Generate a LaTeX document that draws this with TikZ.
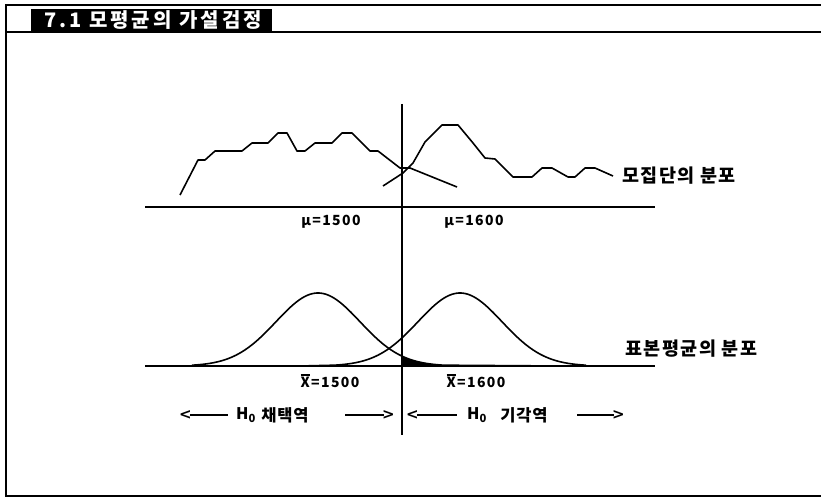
\documentclass[tikz,border=0pt]{standalone}
\usepackage{fontspec}
\setmainfont{Noto Sans CJK KR}[BoldFont={Noto Sans CJK KR Black}]
\newfontfamily\chevfont{DejaVu Sans Bold}
\newcommand{\xbarsym}{{\setbox0\hbox{X}\rlap{\raisebox{1.12\ht0}{\rule{\wd0}{1.2pt}}}X}}
\begin{document}
\begin{tikzpicture}[x=1pt,y=-1pt,
  curve/.style={line width=1.6pt,line join=round},
  axis/.style={line width=1.8pt},
  frame/.style={line width=2.6pt},
  dashline/.style={line width=1.4pt},
  lab/.style={font=\bfseries\fontsize{14}{14}\selectfont\addfontfeature{LetterSpace=10},inner sep=0pt},
  krlab/.style={font=\bfseries\fontsize{18.5}{18}\selectfont\addfontfeature{LetterSpace=8},inner sep=0pt,anchor=west},
  reg/.style={font=\bfseries\fontsize{16.5}{16}\selectfont\addfontfeature{LetterSpace=5},inner sep=0pt},
  chev/.style={font=\chevfont\fontsize{15}{15}\selectfont,inner sep=0pt}]
\useasboundingbox (0,0) rectangle (821,500);
% frame
\draw[frame] (821,5) -- (6,5) -- (6,496) -- (821,496);
\draw[line width=1.8pt] (6,32) -- (821,32);
\fill (31,9) rectangle (272,31);
\node[font=\bfseries\fontsize{20}{20}\selectfont\addfontfeature{LetterSpace=15},text=white,inner sep=0pt,anchor=west] (title) at (44,20) {7.1 모평균의 가설검정};
% axes
\draw[axis] (145,207) -- (655,207);
\draw[axis] (145,366) -- (655,366);
\draw[line width=1.6pt] (402,104) -- (402,435);
% population curves
\draw[curve] (180,195) -- (198,160) -- (205,160) -- (215,151) -- (242,151) -- (252,143) -- (268,143) -- (278,133) -- (287,133) -- (297,151) -- (305,151) -- (315,143) -- (332,143) -- (342,133) -- (352,133) -- (370,151) -- (378,151) -- (400,168) -- (410,168) -- (457,187);
\draw[curve] (383,186) -- (403,173) -- (413,163) -- (425,142) -- (442,125) -- (458,125) -- (473,143) -- (485,158) -- (495,159) -- (513,177) -- (532,177) -- (542,168) -- (552,168) -- (568,177) -- (575,177) -- (585,168) -- (595,168) -- (613,176);
% sampling distributions
\fill plot[domain=402:480,samples=40] (\x,{366-73*exp(-0.5*((\x-318)/42)^2)}) -- (480,366) -- (402,366) -- cycle;
\draw[curve] plot[domain=192:444,samples=120,smooth] (\x,{366-73*exp(-0.5*((\x-318)/42)^2)}) -- (560,366);
\draw[curve] (300,366) -- plot[domain=334:586,samples=120,smooth] (\x,{366-73*exp(-0.5*((\x-460)/42)^2)});
% labels
\node[lab] (m1) at (331,222) {μ=1500};
\node[lab] (m2) at (474,222) {μ=1600};
\node[lab] (x1) at (330,381) {\xbarsym=1500};
\node[lab] (x2) at (476,381) {\xbarsym=1600};
\node[krlab] (pop) at (622,176) {모집단의 분포};
\node[krlab] (samp) at (625,349) {표본평균의 분포};
% acceptance / rejection regions
\node[chev,anchor=east] (al) at (192,415) {<};
\node[reg,font=\bfseries\fontsize{16}{16}\selectfont] (ah) at (246,415) {H\textsubscript{0}};
\node[reg] (at) at (285,415) {채택역};
\node[chev,anchor=west] (ar) at (382,415) {>};
\draw[dashline] (190,415) -- (228,415);
\draw[dashline] (345,415) -- (384,415);
\node[chev,anchor=east] (rl) at (419,415) {<};
\node[reg,font=\bfseries\fontsize{16}{16}\selectfont] (rh) at (477,415) {H\textsubscript{0}};
\node[reg] (rt) at (524,415) {기각역};
\node[chev,anchor=west] (rr) at (612,415) {>};
\draw[dashline] (417,415) -- (457,415);
\draw[dashline] (577,415) -- (614,415);
\end{tikzpicture}
\end{document}
